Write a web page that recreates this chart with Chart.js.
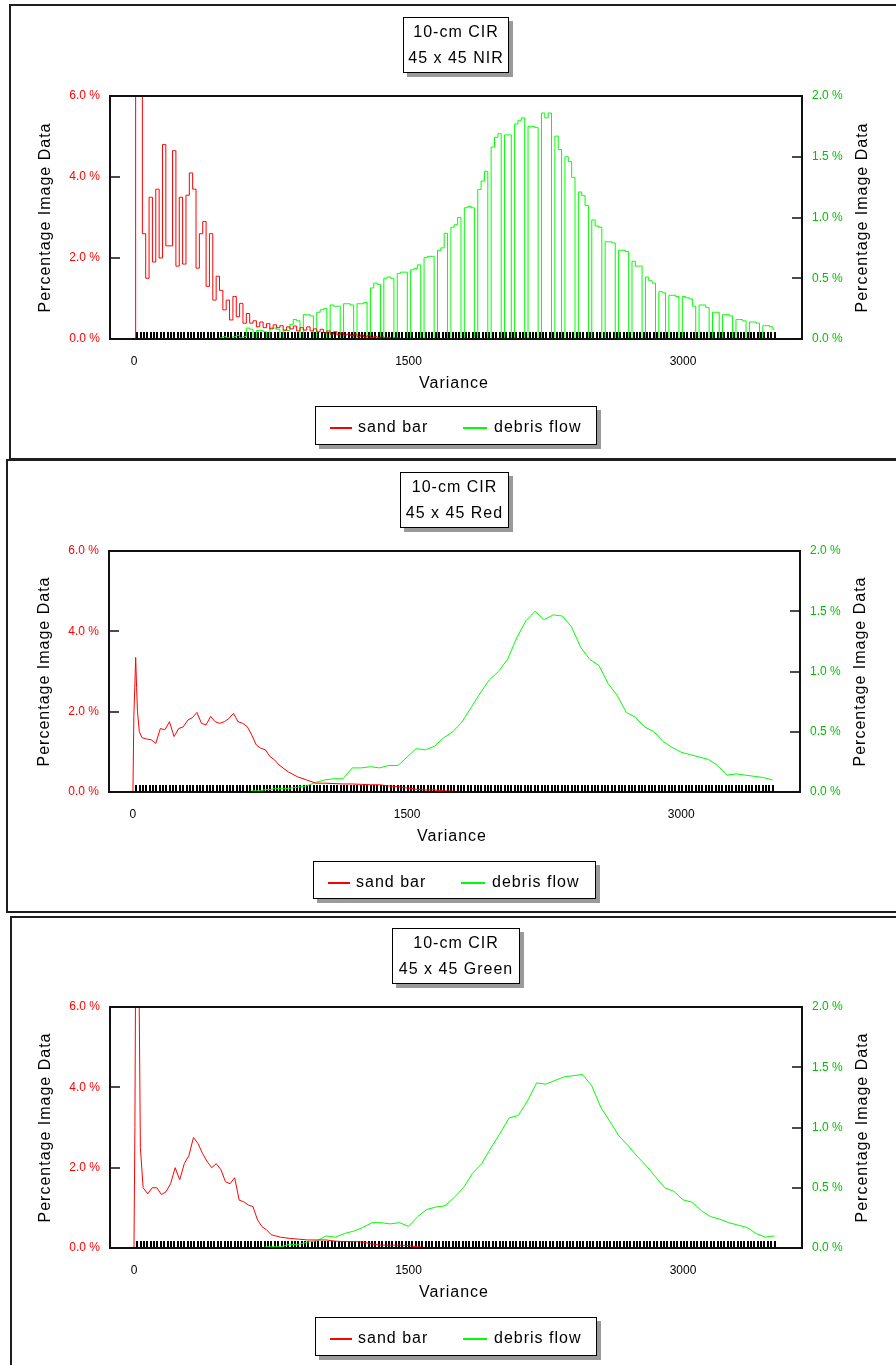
<!DOCTYPE html>
<html>
<head>
<meta charset="utf-8">
<title>10-cm CIR variance histograms</title>
<script src="https://cdn.jsdelivr.net/npm/chart.js@4.4.1/dist/chart.umd.min.js"></script>
<style>
  body { margin: 0; width: 896px; height: 1365px; overflow: hidden; position: relative; background: #fff;
         font-family: "Liberation Sans", Arial, sans-serif; }
  .panel { position: absolute; border: 2px solid #1e1e1e; box-sizing: border-box; background: #fff; }
  canvas { position: absolute; left: 0; }
  .titlebox { position: absolute; border: 1.5px solid #000; background: #fff; box-shadow: 4px 4px 0 #9a9a9a;
              box-sizing: border-box; text-align: center; font-size: 16px; letter-spacing: 1px;
              line-height: 26px; padding-top: 1px; color: #000; }
  .legendbox { position: absolute; border: 1.5px solid #000; background: #fff; box-shadow: 4px 4px 0 #9a9a9a;
               box-sizing: border-box; font-size: 16px; letter-spacing: 1px; color: #000; }
  .swatch { position: absolute; top: 20px; height: 2px; }
  .ltext { position: absolute; top: 10px; line-height: 20px; white-space: nowrap; }
</style>
</head>
<body>

<div class="panel" style="left:9px;top:4px;width:900px;height:456px"></div>
<div class="panel" style="left:6px;top:459px;width:900px;height:454px"></div>
<div class="panel" style="left:10px;top:916px;width:900px;height:460px"></div>

<canvas id="nir" width="896" height="459" style="top:0px"></canvas>
<canvas id="red" width="896" height="453" style="top:459px"></canvas>
<canvas id="green" width="896" height="453" style="top:912px"></canvas>

<div class="titlebox" style="left:403px;top:17px;width:106px;height:56px">10-cm CIR<br>45 x 45 NIR</div>
<div class="titlebox" style="left:400px;top:472px;width:109px;height:56px">10-cm CIR<br>45 x 45 Red</div>
<div class="titlebox" style="left:392px;top:928px;width:128px;height:56px">10-cm CIR<br>45 x 45 Green</div>

<div class="legendbox" style="left:315px;top:406px;width:282px;height:39px">
  <span class="swatch" style="left:14px;width:22px;background:#ff0000"></span><span class="ltext" style="left:42px">sand bar</span>
  <span class="swatch" style="left:147px;width:24px;background:#00ff00"></span><span class="ltext" style="left:178px">debris flow</span>
</div>
<div class="legendbox" style="left:313px;top:861px;width:283px;height:38px">
  <span class="swatch" style="left:14px;width:22px;background:#ff0000"></span><span class="ltext" style="left:42px">sand bar</span>
  <span class="swatch" style="left:147px;width:24px;background:#00ff00"></span><span class="ltext" style="left:178px">debris flow</span>
</div>
<div class="legendbox" style="left:315px;top:1317px;width:282px;height:39px">
  <span class="swatch" style="left:14px;width:22px;background:#ff0000"></span><span class="ltext" style="left:42px">sand bar</span>
  <span class="swatch" style="left:147px;width:24px;background:#00ff00"></span><span class="ltext" style="left:178px">debris flow</span>
</div>

<script>
// variance bins of the NIR histogram (and the tick rug under every plot)
const binWidth = 3500 / 191;
const binCount = 191;

// NIR: percent of image data per variance bin, k = 0..191
const nirSandBar = [
  0, 8, 8, 2.6, 1.5, 3.5, 1.9, 3.7, 2.0, 4.8,
  2.3, 2.3, 4.65, 1.8, 3.5, 1.85, 3.55, 4.1, 3.7, 1.75,
  2.6, 2.9, 1.3, 2.6, 0.96, 1.55, 1.2, 0.72, 0.96, 0.47,
  1.05, 0.55, 0.88, 0.39, 0.63, 0.39, 0.45, 0.3, 0.42, 0.28,
  0.38, 0.25, 0.35, 0.28, 0.33, 0.22, 0.3, 0.25, 0.32, 0.2,
  0.28, 0.22, 0.3, 0.2, 0.25, 0.18, 0.24, 0.15, 0.2, 0.12,
  0.18, 0.1, 0.15, 0.1, 0.12, 0.08, 0.12, 0.06, 0.1, 0.05,
  0.08, 0.04, 0.06, 0.03, 0.05, 0.03, 0.04, 0.02, 0.03, 0.02,
  0.01, 0, 0, 0, 0, 0, 0, 0, 0, 0,
  0, 0, 0, 0, 0, 0, 0, 0, 0, 0,
  0, 0, 0, 0, 0, 0, 0, 0, 0, 0,
  0, 0, 0, 0, 0, 0, 0, 0, 0, 0,
  0, 0, 0, 0, 0, 0, 0, 0, 0, 0,
  0, 0, 0, 0, 0, 0, 0, 0, 0, 0,
  0, 0, 0, 0, 0, 0, 0, 0, 0, 0,
  0, 0, 0, 0, 0, 0, 0, 0, 0, 0,
  0, 0, 0, 0, 0, 0, 0, 0, 0, 0,
  0, 0, 0, 0, 0, 0, 0, 0, 0, 0,
  0, 0, 0, 0, 0, 0, 0, 0, 0, 0,
  0, 0
];
const nirDebrisFlow = [
  0, 0, 0, 0, 0, 0, 0, 0, 0, 0,
  0, 0, 0, 0, 0, 0, 0, 0, 0, 0,
  0, 0, 0, 0, 0, 0, 0.01, 0.02, 0.01, 0,
  0.02, 0.03, 0.01, 0.02, 0.09, 0.08, 0, 0.07, 0.07, 0.06,
  0, 0.09, 0.09, 0.08, 0, 0.07, 0.07, 0.12, 0.16, 0.15,
  0, 0.2, 0.2, 0.19, 0, 0.22, 0.24, 0.25, 0, 0.28,
  0.27, 0.27, 0, 0.29, 0.29, 0.28, 0, 0.29, 0.29, 0.3,
  0, 0.42, 0.46, 0.45, 0, 0.5, 0.51, 0.5, 0, 0.54,
  0.55, 0.55, 0, 0.57, 0.58, 0.61, 0, 0.67, 0.68, 0.68,
  0, 0.73, 0.75, 0.87, 0, 0.92, 0.94, 1.0, 0, 1.08,
  1.09, 1.08, 0, 1.23, 1.3, 1.38, 0, 1.58, 1.66, 1.69,
  0, 1.68, 1.68, 0, 1.77, 1.8, 1.82, 0, 1.75, 1.75,
  1.74, 0, 1.86, 1.82, 1.86, 0, 1.67, 1.56, 0, 1.5,
  1.46, 1.33, 0, 1.21, 1.18, 1.1, 0, 0.98, 0.93, 0.92,
  0, 0.8, 0.8, 0.79, 0, 0.73, 0.73, 0.72, 0, 0.64,
  0.6, 0.6, 0, 0.51, 0.48, 0.46, 0, 0.39, 0.38, 0,
  0.36, 0.36, 0.35, 0, 0.35, 0.34, 0.33, 0.27, 0, 0.28,
  0.28, 0.26, 0, 0.22, 0.22, 0, 0.2, 0.2, 0.19, 0,
  0.16, 0.16, 0.15, 0, 0.14, 0.14, 0.13, 0, 0.11, 0.11,
  0.1, 0.08
];

// Red and Green bands: sampled variance values
const variance = [
  0, 5, 10, 15, 20, 25, 35,
  50, 75, 100, 125, 150, 175, 200, 225, 250, 275, 300, 325, 350, 375, 400,
  425, 450, 475, 500, 525, 550, 575, 600, 625, 650, 675, 700, 725, 750, 775, 800,
  850, 900, 950, 1000, 1050, 1100, 1150, 1200, 1250, 1300, 1350, 1400, 1450, 1500,
  1550, 1600, 1650, 1700, 1750, 1800, 1850, 1900, 1950, 2000, 2050, 2100, 2150, 2200,
  2250, 2300, 2350, 2400, 2450, 2500, 2550, 2600, 2650, 2700, 2750, 2800, 2850, 2900,
  2950, 3000, 3050, 3100, 3150, 3200, 3250, 3300, 3350, 3400, 3450, 3500
];
const redSandBar = [
  0, 1.9, 2.6, 3.35, 2.6, 2.0, 1.5,
  1.35, 1.32, 1.3, 1.21, 1.58, 1.55, 1.75, 1.38, 1.58, 1.62, 1.79, 1.85, 1.98, 1.71, 1.67,
  1.88, 1.75, 1.71, 1.75, 1.83, 1.96, 1.75, 1.71, 1.63, 1.42, 1.17, 1.09, 1.05, 0.88, 0.8, 0.67,
  0.5, 0.38, 0.3, 0.22, 0.22, 0.21, 0.2, 0.2, 0.19, 0.18, 0.18, 0.15, 0.13, 0.1,
  0.07, 0.05, 0.05, 0.03, 0.02, 0.01, 0, 0, 0, 0, 0, 0, 0, 0,
  0, 0, 0, 0, 0, 0, 0, 0, 0, 0, 0, 0, 0, 0,
  0, 0, 0, 0, 0, 0, 0, 0, 0, 0, 0, 0
];
const redDebrisFlow = [
  0, 0, 0, 0, 0, 0, 0,
  0, 0, 0, 0, 0, 0, 0, 0, 0, 0, 0, 0, 0, 0, 0,
  0, 0, 0, 0, 0, 0, 0, 0, 0, 0.01, 0.01, 0.01, 0.02, 0.02, 0.03, 0.03,
  0.03, 0.04, 0.05, 0.08, 0.1, 0.11, 0.11, 0.2, 0.2, 0.21, 0.2, 0.22, 0.22, 0.29,
  0.36, 0.35, 0.38, 0.45, 0.5, 0.58, 0.7, 0.82, 0.93, 1.0, 1.1, 1.28, 1.42, 1.5,
  1.43, 1.47, 1.46, 1.37, 1.2, 1.1, 1.05, 0.9, 0.8, 0.66, 0.62, 0.54, 0.5, 0.42,
  0.37, 0.33, 0.31, 0.29, 0.27, 0.22, 0.14, 0.15, 0.14, 0.13, 0.12, 0.1
];
const greenSandBar = [
  0, 3.0, 8, 8, 8, 8, 2.5,
  1.5, 1.35, 1.5, 1.5, 1.33, 1.4, 1.6, 2.0, 1.7, 2.1, 2.3, 2.75, 2.6, 2.35, 2.15,
  2.0, 2.1, 1.95, 1.65, 1.6, 1.75, 1.19, 1.15, 1.07, 1.03, 0.7, 0.53, 0.45, 0.33, 0.3, 0.27,
  0.24, 0.22, 0.2, 0.2, 0.2, 0.17, 0.16, 0.16, 0.15, 0.1, 0.07, 0.07, 0.07, 0.06,
  0.03, 0.01, 0, 0, 0, 0, 0, 0, 0, 0, 0, 0, 0, 0,
  0, 0, 0, 0, 0, 0, 0, 0, 0, 0, 0, 0, 0, 0,
  0, 0, 0, 0, 0, 0, 0, 0, 0, 0, 0, 0
];
const greenDebrisFlow = [
  0, 0, 0, 0, 0, 0, 0,
  0, 0, 0, 0, 0, 0, 0, 0, 0, 0, 0, 0, 0, 0, 0,
  0, 0, 0, 0, 0, 0, 0, 0, 0, 0, 0, 0, 0.01, 0.01, 0.01, 0.01,
  0.03, 0.03, 0.05, 0.06, 0.1, 0.09, 0.12, 0.14, 0.17, 0.21, 0.21, 0.2, 0.21, 0.18,
  0.26, 0.32, 0.34, 0.35, 0.42, 0.5, 0.62, 0.7, 0.83, 0.95, 1.08, 1.1, 1.22, 1.37,
  1.36, 1.39, 1.42, 1.43, 1.44, 1.35, 1.17, 1.05, 0.93, 0.85, 0.76, 0.68, 0.59, 0.5,
  0.47, 0.4, 0.38, 0.31, 0.26, 0.24, 0.21, 0.19, 0.17, 0.12, 0.09, 0.1
];

const xTicks = [0, 1500, 3000];
const leftTicks = [0, 2, 4, 6];
const rightTicks = [0, 0.5, 1, 1.5, 2];
const xTitle = "Variance";
const yTitle = "Percentage Image Data";

Chart.defaults.font.family = '"Liberation Sans", Arial, sans-serif';

function pct(v) {
  return v.toFixed(1) + " %";
}

function drawPanel(id, geo, sandXs, sand, debrisXs, debris, stepped) {
  const canvas = document.getElementById(id);
  const W = canvas.width, H = canvas.height;

  const decorations = {
    id: "decorations",
    beforeDatasetsDraw(chart) {
      const { ctx, chartArea: a, scales } = chart;
      ctx.save();
      ctx.strokeStyle = "#000";
      ctx.lineWidth = 2;
      ctx.beginPath();
      for (let k = 1; k <= binCount; k++) {
        const px = Math.round(scales.x.getPixelForValue(k * binWidth));
        ctx.moveTo(px, a.bottom - 7);
        ctx.lineTo(px, a.bottom);
      }
      ctx.stroke();
      ctx.restore();
    },
    afterDatasetsDraw(chart) {
      const { ctx, chartArea: a, scales } = chart;
      ctx.save();
      ctx.strokeStyle = "#111";
      ctx.lineWidth = 2;
      ctx.strokeRect(a.left, a.top, a.right - a.left, a.bottom - a.top);
      ctx.lineWidth = 1.5;
      ctx.beginPath();
      leftTicks.forEach((v) => {
        const py = Math.round(scales.y.getPixelForValue(v));
        ctx.moveTo(a.left, py);
        ctx.lineTo(a.left + 10, py);
      });
      rightTicks.forEach((v) => {
        const py = Math.round(scales.y1.getPixelForValue(v));
        ctx.moveTo(a.right - 10, py);
        ctx.lineTo(a.right, py);
      });
      ctx.stroke();

      ctx.fillStyle = "#000";
      ctx.font = '16px "Liberation Sans", Arial, sans-serif';
      ctx.letterSpacing = "1px";
      ctx.textAlign = "center";
      ctx.textBaseline = "middle";
      ctx.fillText(xTitle, geo.xTitleX, a.bottom + 45);
      const midY = (a.top + a.bottom) / 2;
      [geo.leftTitleX, geo.rightTitleX].forEach((tx) => {
        ctx.save();
        ctx.translate(tx, midY);
        ctx.rotate(-Math.PI / 2);
        ctx.fillText(yTitle, 0, 0);
        ctx.restore();
      });
      ctx.restore();
    },
  };

  return new Chart(canvas, {
    type: "line",
    data: {
      datasets: [
        {
          label: "sand bar",
          data: sand.map((y, i) => ({ x: sandXs[i], y: y })),
          borderColor: "#ff0000",
          borderWidth: 1,
          pointRadius: 0,
          stepped: stepped,
          yAxisID: "y",
        },
        {
          label: "debris flow",
          data: debris.map((y, i) => ({ x: debrisXs[i], y: y })),
          borderColor: "#00ff00",
          borderWidth: 1,
          pointRadius: 0,
          stepped: stepped,
          yAxisID: "y1",
        },
      ],
    },
    options: {
      responsive: false,
      animation: false,
      devicePixelRatio: 1,
      layout: { padding: { top: geo.top, right: 0, bottom: 0, left: 0 } },
      plugins: {
        legend: { display: false },
        tooltip: { enabled: false },
      },
      scales: {
        x: {
          type: "linear",
          min: -131,
          max: 3650,
          grid: { display: false, drawTicks: false },
          border: { display: false },
          afterBuildTicks: (s) => { s.ticks = xTicks.map((v) => ({ value: v })); },
          afterFit: (s) => { s.height = H - geo.bottom; },
          ticks: { color: "#000", font: { size: 12 }, padding: 15, maxRotation: 0, autoSkip: false,
                   callback: (v) => String(v) },
        },
        y: {
          position: "left",
          min: 0,
          max: 6,
          grid: { display: false, drawTicks: false },
          border: { display: false },
          afterBuildTicks: (s) => { s.ticks = leftTicks.map((v) => ({ value: v })); },
          afterFit: (s) => { s.width = geo.left; },
          ticks: { color: "#ff0000", font: { size: 12 }, padding: 10, callback: pct },
        },
        y1: {
          position: "right",
          min: 0,
          max: 2,
          grid: { display: false, drawTicks: false },
          border: { display: false },
          afterBuildTicks: (s) => { s.ticks = rightTicks.map((v) => ({ value: v })); },
          afterFit: (s) => { s.width = W - geo.right; },
          ticks: { color: "#00c000", font: { size: 12 }, padding: 10, callback: pct },
        },
      },
    },
    plugins: [decorations],
  });
}

const nirBins = nirSandBar.map((v, k) => k * binWidth);

drawPanel("nir", { left: 110, right: 802, top: 96, bottom: 339, xTitleX: 454, leftTitleX: 46, rightTitleX: 863 },
  nirBins, nirSandBar, nirBins, nirDebrisFlow, "middle");
drawPanel("red", { left: 109, right: 800, top: 92, bottom: 333, xTitleX: 452, leftTitleX: 45, rightTitleX: 861 },
  variance, redSandBar, variance, redDebrisFlow, false);
drawPanel("green", { left: 110, right: 802, top: 95, bottom: 336, xTitleX: 454, leftTitleX: 46, rightTitleX: 863 },
  variance, greenSandBar, variance, greenDebrisFlow, false);
</script>
</body>
</html>
